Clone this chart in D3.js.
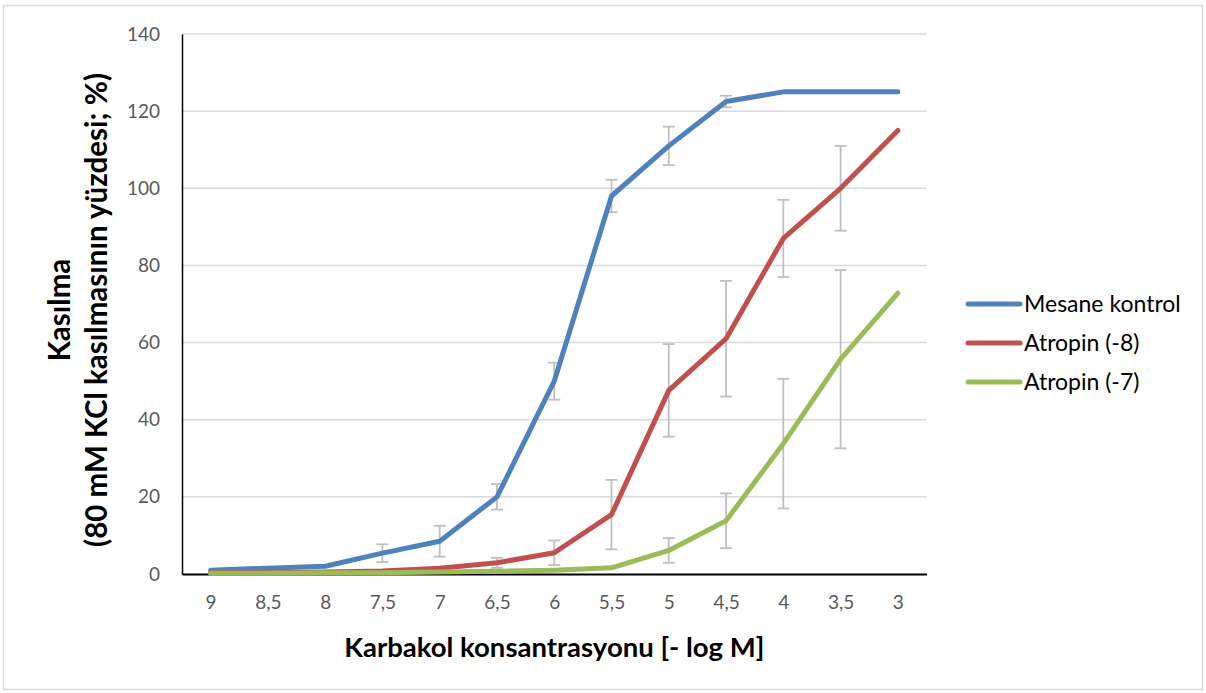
<!DOCTYPE html>
<html><head><meta charset="utf-8">
<script src="https://cdn.jsdelivr.net/npm/d3@7"></script>
<style>body{margin:0;background:#fff;} svg{display:block;font-family:Lato,"Open Sans",sans-serif;}</style>
</head><body>
<svg id="c" width="1206" height="693"></svg>
<script>
const categories = ["9","8,5","8","7,5","7","6,5","6","5,5","5","4,5","4","3,5","3"];
const yTicks = [0,20,40,60,80,100,120,140];
const seriesNames = ["Mesane kontrol","Atropin (-8)","Atropin (-7)"];
const mesane = [1,1.5,2,5.4,8.5,20,50,98,111,122.5,125,125,125];
const mesaneErr = [null,null,null,2.3,4,3.3,4.8,4.2,5,1.5,null,null,null];
const atropin8 = [0.3,0.3,0.5,0.8,1.5,2.9,5.5,15.4,47.6,61,87,100,115];
const atropin8Err = [null,null,null,null,null,1.3,3.2,9,12,15,10,11,null];
const atropin7 = [0.2,0.2,0.3,0.3,0.5,0.7,1,1.6,6.1,13.8,33.8,55.7,72.8];
const atropin7Err = [null,null,null,null,null,null,null,null,3.2,7.1,16.8,23.1,null];
const colors = ["#4F81BD","#C0504D","#9BBB59"];

const svg = d3.select("#c");
const m = {left:182, right:926.5, top:34, bottom:574};
const x = d3.scalePoint().domain(categories).range([m.left, m.right]).padding(0.5);
const y = d3.scaleLinear().domain([0,140]).range([m.bottom, m.top]);

svg.append("rect").attr("x",3.5).attr("y",5.5).attr("width",1199).attr("height",684)
  .attr("fill","none").attr("stroke","#d9d9d9").attr("stroke-width",1.5);

// gridlines
svg.append("g").selectAll("line").data(yTicks.filter(d=>d>0)).join("line")
  .attr("x1",m.left).attr("x2",m.right).attr("y1",d=>y(d)).attr("y2",d=>y(d))
  .attr("stroke","#d9d9d9").attr("stroke-width",1.5);

// y axis
const yAxis = svg.append("g").attr("transform",`translate(${m.left},0)`)
  .call(d3.axisLeft(y).tickValues(yTicks).tickSize(0).tickPadding(22));
yAxis.select(".domain").attr("stroke","#000").attr("stroke-width",1.5);
yAxis.selectAll("text").attr("font-size",19).attr("fill","#595959").attr("font-family","Lato,sans-serif");

// x axis
const xAxis = svg.append("g").attr("transform",`translate(0,${m.bottom})`)
  .call(d3.axisBottom(x).tickSize(0).tickPadding(22));
xAxis.select(".domain").attr("stroke","#000").attr("stroke-width",2);
xAxis.selectAll("text").attr("font-size",19).attr("fill","#595959").attr("font-family","Lato,sans-serif");

// titles
svg.append("text").attr("x",(m.left+m.right)/2).attr("y",657).attr("text-anchor","middle")
  .attr("font-weight","bold").attr("font-size",27.5).text("Karbakol konsantrasyonu [- log M]");
const yt = svg.append("text").attr("transform","translate(0,310) rotate(-90)").attr("text-anchor","middle")
  .attr("font-weight","bold").attr("font-size",29.5);
yt.append("tspan").attr("x",0).attr("y",70).text("Kasılma");
yt.append("tspan").attr("x",0).attr("y",107).text("(80 mM KCl kasılmasının yüzdesi; %)");

const data = [mesane, atropin8, atropin7];
const errs = [mesaneErr, atropin8Err, atropin7Err];

// error bars
errs.forEach((e,si)=>{
  const g = svg.append("g").attr("stroke","#BFBFBF").attr("stroke-width",1.8);
  e.forEach((v,i)=>{
    if(v==null) return;
    const cx = x(categories[i]), v0 = data[si][i];
    g.append("line").attr("x1",cx).attr("x2",cx).attr("y1",y(v0+v)).attr("y2",y(v0-v));
    g.append("line").attr("x1",cx-6).attr("x2",cx+6).attr("y1",y(v0+v)).attr("y2",y(v0+v));
    g.append("line").attr("x1",cx-6).attr("x2",cx+6).attr("y1",y(v0-v)).attr("y2",y(v0-v));
  });
});

// lines
const line = d3.line().x((d,i)=>x(categories[i])).y(d=>y(d));
data.forEach((d,si)=>{
  svg.append("path").datum(d).attr("d",line).attr("fill","none")
    .attr("stroke",colors[si]).attr("stroke-width",5).attr("stroke-linejoin","round").attr("stroke-linecap","round");
});

// legend
seriesNames.forEach((n,i)=>{
  const ly = 304 + i*39;
  svg.append("line").attr("x1",968).attr("x2",1020).attr("y1",ly).attr("y2",ly)
    .attr("stroke",colors[i]).attr("stroke-width",5).attr("stroke-linecap","round");
  svg.append("text").attr("x",1024).attr("y",ly+8).attr("font-size",23).attr("fill","#000").text(n);
});
</script>
</body></html>
